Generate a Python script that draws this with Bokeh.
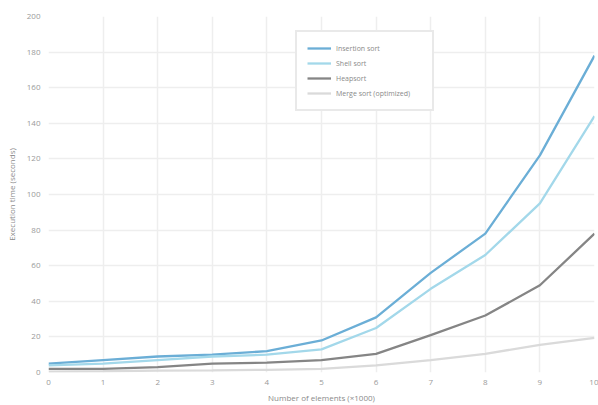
from bokeh.plotting import figure
from bokeh.models import FixedTicker, Legend, LegendItem
from bokeh.embed import file_html
from bokeh.resources import INLINE

x_values = [0, 1, 2, 3, 4, 5, 6, 7, 8, 9, 10]
series_a = [5, 7, 9, 10, 12, 18, 31, 56, 78, 122, 178]
series_b = [4, 5, 7, 9, 10, 13, 25, 47, 66, 95, 144]
series_c = [2, 2, 3, 5, 5.5, 7, 10.5, 21, 32, 49, 78]
series_d = [0.5, 0.7, 1, 1.2, 1.5, 2, 4, 7, 10.5, 15.5, 19.5]
series_names = ["Insertion sort", "Shell sort", "Heapsort", "Merge sort (optimized)"]
x_ticks = [0, 1, 2, 3, 4, 5, 6, 7, 8, 9, 10]
y_ticks = [0, 20, 40, 60, 80, 100, 120, 140, 160, 180, 200]

colors = ["#6baed6", "#a3d8ea", "#858585", "#dadada"]

p = figure(width=598, height=405, output_backend="svg", toolbar_location=None,
           x_range=(0, 10), y_range=(0, 200),
           min_border_left=48, min_border_right=4, min_border_top=16, min_border_bottom=32)
p.outline_line_color = None
p.background_fill_color = "white"

for ax in (p.xaxis[0], p.yaxis[0]):
    ax.axis_line_color = None
    ax.major_tick_line_color = None
    ax.minor_tick_line_color = None
    ax.major_tick_in = 0
    ax.major_tick_out = 0
    ax.minor_tick_in = 0
    ax.minor_tick_out = 0
    ax.major_label_text_font = "Open Sans"
    ax.major_label_text_font_size = "8px"
    ax.major_label_text_color = "#9a9a9a"
    ax.axis_label_text_font = "Open Sans"
    ax.axis_label_text_font_size = "8px"
    ax.axis_label_text_font_style = "normal"
    ax.axis_label_text_color = "#8a8a8a"

p.xaxis.ticker = FixedTicker(ticks=x_ticks)
p.yaxis.ticker = FixedTicker(ticks=y_ticks)
p.xaxis.major_label_standoff = 7
p.yaxis.major_label_standoff = 8
p.xaxis.axis_label = "Number of elements (×1000)"
p.yaxis.axis_label = "Execution time (seconds)"
p.xaxis.axis_label_standoff = 4
p.yaxis.axis_label_standoff = 7

p.xgrid.grid_line_color = "#eeeeee"
p.ygrid.grid_line_color = "#eeeeee"
p.xgrid.grid_line_width = 1.5
p.ygrid.grid_line_width = 1.5

renderers = []
for ys, c in zip([series_a, series_b, series_c, series_d], colors):
    r = p.line(x_values, ys, line_color=c, line_width=2.3)
    renderers.append(r)

legend = Legend(items=[LegendItem(label=n, renderers=[r]) for n, r in zip(series_names, renderers)],
                location=(247, 261))
legend.label_text_font = "Open Sans"
legend.label_text_font_size = "7px"
legend.label_text_color = "#8a8a8a"
legend.padding = 10
legend.spacing = 3
legend.glyph_height = 12
legend.label_height = 12
legend.glyph_width = 24
legend.label_width = 86
legend.label_standoff = 5
legend.border_line_color = "#d4d4d4"
legend.border_line_width = 2
legend.background_fill_color = "white"
legend.background_fill_alpha = 1.0
legend.margin = 0
p.add_layout(legend)

open("out.html", "w").write(file_html(p, INLINE))
